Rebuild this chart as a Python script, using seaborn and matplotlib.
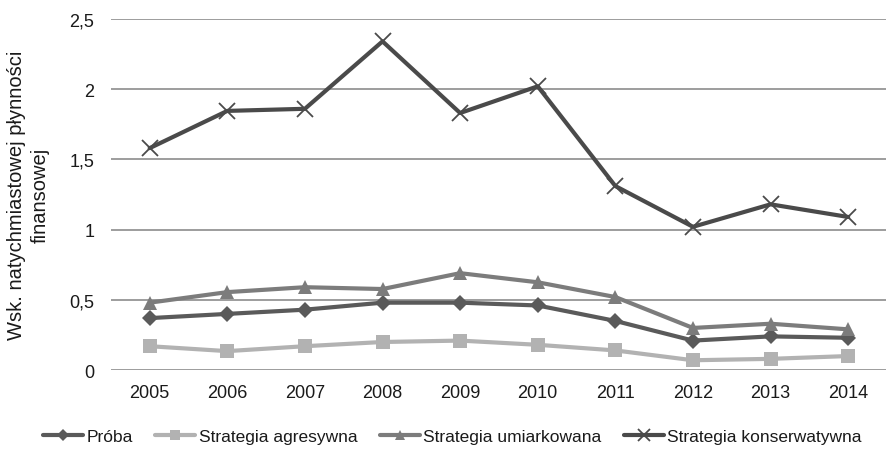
import matplotlib
matplotlib.use("Agg")
import matplotlib.pyplot as plt
from matplotlib.lines import Line2D
import seaborn as sns
import pandas as pd

years = ["2005", "2006", "2007", "2008", "2009", "2010", "2011", "2012", "2013", "2014"]
proba = [0.37, 0.40, 0.43, 0.48, 0.48, 0.46, 0.35, 0.21, 0.24, 0.23]
agresywna = [0.17, 0.135, 0.17, 0.20, 0.21, 0.18, 0.14, 0.07, 0.08, 0.10]
umiarkowana = [0.48, 0.555, 0.59, 0.577, 0.69, 0.625, 0.52, 0.30, 0.33, 0.29]
konserwatywna = [1.58, 1.845, 1.86, 2.34, 1.83, 2.02, 1.31, 1.02, 1.18, 1.09]
series_names = ["Próba", "Strategia agresywna", "Strategia umiarkowana", "Strategia konserwatywna"]
y_ticks = [0, 0.5, 1, 1.5, 2, 2.5]
y_tick_labels = ["0", "0,5", "1", "1,5", "2", "2,5"]
y_label = "Wsk. natychmiastowej płynności\nfinansowej"

frames = []
for name, vals in zip(series_names, [proba, agresywna, umiarkowana, konserwatywna]):
    frames.append(pd.DataFrame({"rok": years, "wartosc": vals, "seria": name}))
df = pd.concat(frames, ignore_index=True)

sns.set_theme(style="white")
plt.rcParams["font.family"] = ["Liberation Sans", "DejaVu Sans"]

palette = {
    "Próba": "#5a5a5a",
    "Strategia agresywna": "#b2b2b2",
    "Strategia umiarkowana": "#7c7c7c",
    "Strategia konserwatywna": "#4a4a4a",
}
markers = {
    "Próba": "D",
    "Strategia agresywna": "s",
    "Strategia umiarkowana": "^",
    "Strategia konserwatywna": "x",
}
msizes = {"Próba": 8, "Strategia agresywna": 9.5, "Strategia umiarkowana": 10,
          "Strategia konserwatywna": 11}

fig = plt.figure(figsize=(8.87, 4.52), dpi=100)
ax = fig.add_axes([0.125, 0.179, 0.875, 0.777])

for name in series_names:
    sub = df[df["seria"] == name]
    sns.lineplot(data=sub, x="rok", y="wartosc", color=palette[name],
                 marker=markers[name], markersize=msizes[name],
                 markeredgewidth=1.3 if markers[name] == "x" else 0,
                 markeredgecolor=palette[name],
                 linewidth=3.0, ax=ax, legend=False, sort=False)

ax.set_xlim(-0.5, len(years) - 0.5)
ax.set_ylim(0, 2.5)
ax.set_yticks(y_ticks)
ax.set_yticklabels(y_tick_labels)
ax.yaxis.grid(True, color="#8c8c8c", linewidth=1.2)
ax.set_axisbelow(True)
for s in ax.spines.values():
    s.set_visible(False)
ax.tick_params(axis="both", length=0, labelsize=13, colors="#1a1a1a", pad=10)
ax.tick_params(axis="y", pad=12)
ax.set_xlabel("")
ax.set_ylabel(y_label, fontsize=14.5, color="#1a1a1a", labelpad=14,
              linespacing=1.35, multialignment="center")

handles = [Line2D([], [], color=palette[n], marker=markers[n], linewidth=3.0,
                  markersize=msizes[n] * 0.75,
                  markeredgewidth=1.3 if markers[n] == "x" else 0,
                  markeredgecolor=palette[n]) for n in series_names]
fig.legend(handles, series_names, loc="center", bbox_to_anchor=(0.51, 0.033), ncol=4,
           frameon=False, fontsize=12.5, handlelength=2.3, handletextpad=0.2,
           columnspacing=1.3, labelcolor="#1a1a1a")

fig.savefig("out.png", dpi=100)
